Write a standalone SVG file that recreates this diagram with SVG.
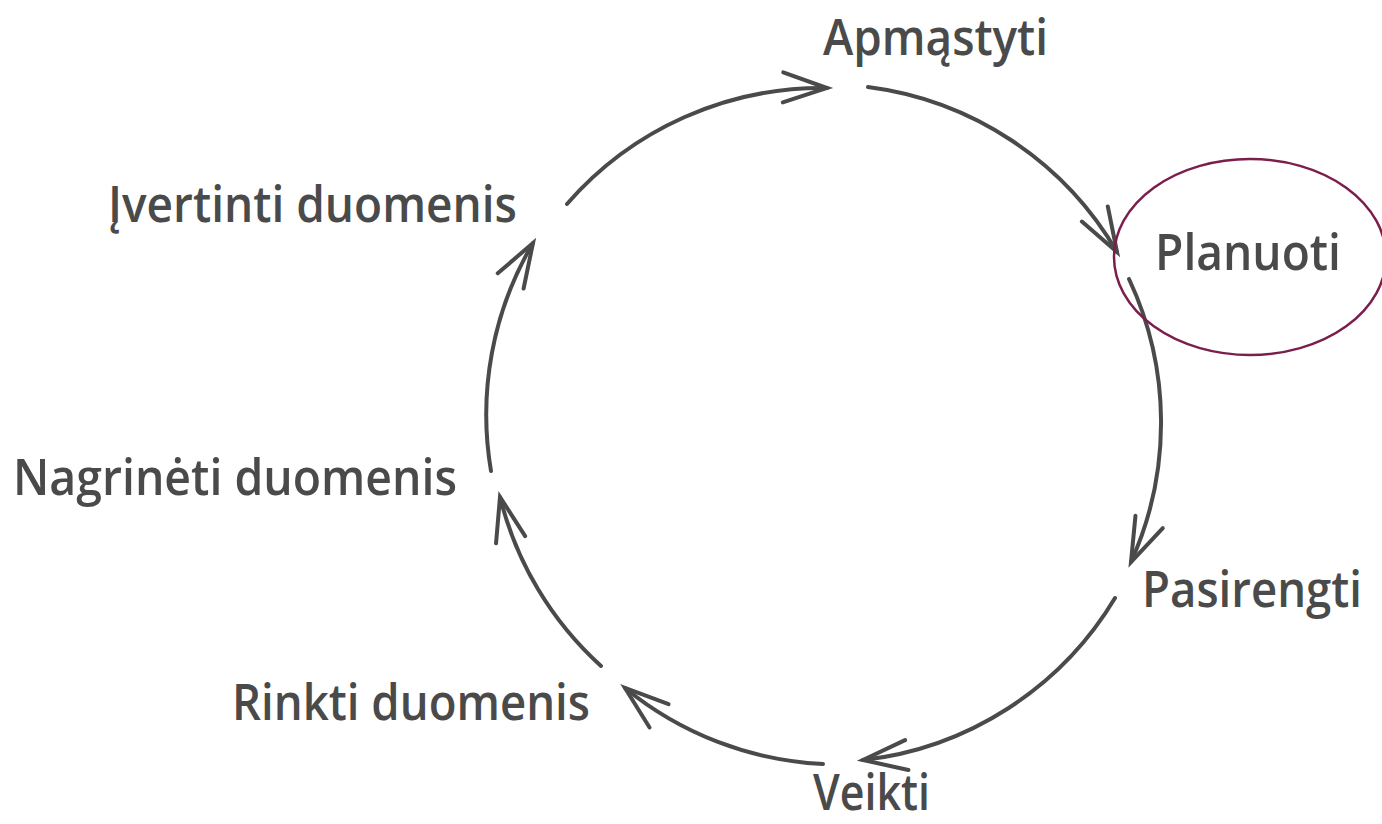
<svg xmlns="http://www.w3.org/2000/svg" width="1382" height="824" viewBox="0 0 1382 824">
<style>
.lbl{font-family:"Open Sans","Noto Sans","Liberation Sans",sans-serif;font-size:50px;font-weight:600;fill:#4a4a4a;}
.arc{fill:none;stroke:#4a4a4a;stroke-width:4;stroke-linecap:round;marker-end:url(#arr);}
.hl{fill:none;stroke:#7b1e4b;stroke-width:2.5;}
</style>
<defs>
<marker id="arr" markerUnits="userSpaceOnUse" markerWidth="60" markerHeight="40" viewBox="-50 -20 60 40" refX="0" refY="0" orient="auto" overflow="visible">
<path d="M-44,-15 L0,0 L-44,15" fill="none" stroke="#4a4a4a" stroke-width="4" stroke-linecap="round" stroke-linejoin="miter"/>
</marker>
</defs>
<rect width="1382" height="824" fill="#ffffff"/>
<g id="connectors">
<path class="arc" d="M567,204 A338,338 0 0 1 827,88"/>
<path class="arc" d="M868,87 A338,338 0 0 1 1117,252"/>
<path class="arc" d="M1129,279 A338,338 0 0 1 1131,562"/>
<path class="arc" d="M1115,598 A338,338 0 0 1 863,760"/>
<path class="arc" d="M823,764 A338,338 0 0 1 625,688"/>
<path class="arc" d="M601,666 A338,338 0 0 1 500,497"/>
<path class="arc" d="M491,471 A338,338 0 0 1 533,243"/>
</g>
<g id="node-apmastyti"><text class="lbl" x="823" y="55" textLength="225" lengthAdjust="spacingAndGlyphs">Apmąstyti</text></g>
<g id="node-planuoti">
<ellipse class="hl" cx="1250" cy="257" rx="136" ry="98"/>
<text class="lbl" x="1155" y="270" textLength="186" lengthAdjust="spacingAndGlyphs">Planuoti</text>
</g>
<g id="node-pasirengti"><text class="lbl" x="1142" y="607" textLength="220" lengthAdjust="spacingAndGlyphs">Pasirengti</text></g>
<g id="node-veikti"><text class="lbl" x="813" y="810" textLength="117" lengthAdjust="spacingAndGlyphs">Veikti</text></g>
<g id="node-rinkti"><text class="lbl" x="232" y="720" textLength="358" lengthAdjust="spacingAndGlyphs">Rinkti duomenis</text></g>
<g id="node-nagrineti"><text class="lbl" x="13" y="495" textLength="444" lengthAdjust="spacingAndGlyphs">Nagrinėti duomenis</text></g>
<g id="node-ivertinti"><text class="lbl" x="108" y="222" textLength="409" lengthAdjust="spacingAndGlyphs">Įvertinti duomenis</text></g>
</svg>
